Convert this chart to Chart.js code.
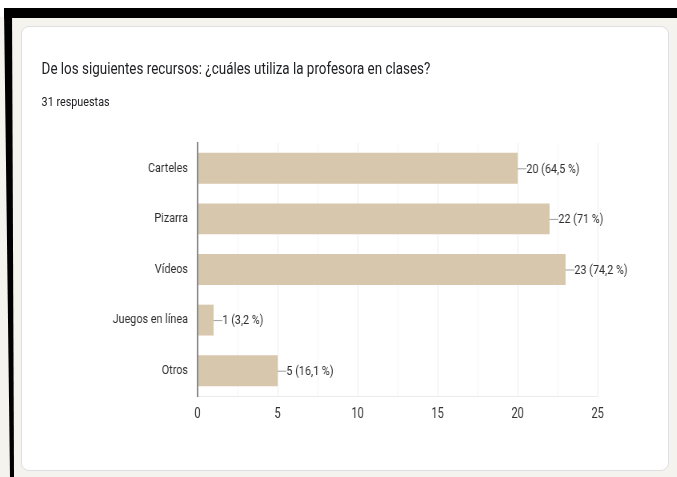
<!DOCTYPE html>
<html>
<head>
  <meta charset="utf-8">
  <title>recursos</title>
  <script src="https://cdn.jsdelivr.net/npm/chart.js@4.4.0/dist/chart.umd.min.js"></script>
</head>
<style>
body{
	margin: 0;
	width: 677px;
	height: 477px;
	overflow: hidden;
	background-color: #ffffff;
	position: relative;
	font-family: Roboto, sans-serif;
}
#page{
	position: absolute;
	left: 0; top: 17px;
	width: 677px; height: 460px;
	background-color: #f4f3ee;
}
#band{
	position: absolute;
	left: 4px; top: 8px;
	width: 673px; height: 10px;
	background-color: #000000;
}
#edge{
	position: absolute;
	left: 0; top: 8px;
	width: 20px; height: 469px;
	background-color: #000000;
	clip-path: polygon(4px 0, 12px 0, 14px 100%, 10px 100%);
}
#card{
	position: absolute;
	left: 21px; top: 26px;
	width: 646px; height: 443px;
	background-color: #ffffff;
	border: 1px solid #dfdfe3;
	border-radius: 8px;
}
/* the screenshot is squeezed sideways, so the text and chart are too */
#squeeze{
	position: absolute;
	left: 0; top: 0;
	width: 846px; height: 477px;
	transform: scaleX(0.8);
	transform-origin: 0 0;
}
#title{
	position: absolute;
	left: 52px; top: 58px;
	font-size: 16.8px;
	line-height: 20px;
	color: #202124;
	white-space: nowrap;
}
#count{
	position: absolute;
	left: 52px; top: 93px;
	font-size: 13.5px;
	line-height: 16px;
	color: #202124;
	white-space: nowrap;
}
#chartBox{
	position: absolute;
	left: 27.5px; top: 130px;
	width: 809px; height: 300px;
}
</style>
<body>
  <div id="page"></div>
  <div id="band"></div>
  <div id="edge"></div>
  <div id="card"></div>
  <div id="squeeze">
	<div id="title">De los siguientes recursos: ¿cuáles utiliza la profesora en clases?</div>
	<div id="count">31 respuestas</div>
	<div id="chartBox"><canvas id="resChart"></canvas></div>
  </div>

<script>
// answers
var categories = ["Carteles", "Pizarra", "Vídeos", "Juegos en línea", "Otros"];
var counts = [20, 22, 23, 1, 5];
var percents = ["64,5", "71", "74,2", "3,2", "16,1"];
var xTicks = [0, 5, 10, 15, 20, 25];

//draws "—20 (64,5 %)" next to every bar
var barLabels = {
  id: "barLabels",
  afterDatasetsDraw: function(chart) {
    var ctx = chart.ctx;
    var meta = chart.getDatasetMeta(0);
    ctx.save();
    ctx.font = "13.5px Roboto";
    ctx.textBaseline = "middle";
    ctx.textAlign = "left";
    for (var i = 0; i < meta.data.length; i++) {
      var bar = meta.data[i];
      ctx.strokeStyle = "#9e9e9e";
      ctx.lineWidth = 1;
      ctx.beginPath();
      ctx.moveTo(bar.x, bar.y + 0.5);
      ctx.lineTo(bar.x + 11, bar.y + 0.5);
      ctx.stroke();
      ctx.fillStyle = "#2e2e2e";
      ctx.fillText(counts[i] + " (" + percents[i] + " %)", bar.x + 11, bar.y + 1);
    }
    ctx.restore();
  }
};

var ctx = document.getElementById("resChart").getContext("2d");
var myBar = new Chart(ctx, {
  type: "bar",
  data: {
    labels: categories,
    datasets: [{
      data: counts,
      backgroundColor: "#d7c7ac",
      borderWidth: 0,
      categoryPercentage: 1,
      barPercentage: 0.61
    }]
  },
  options: {
    indexAxis: "y",
    responsive: true,
    maintainAspectRatio: false,
    animation: false,
    layout: { padding: { top: 13, right: 90, bottom: 0, left: 0 } },
    plugins: { legend: { display: false }, tooltip: { enabled: false } },
    scales: {
      x: {
        min: 0,
        max: 25,
        ticks: {
          stepSize: 2.5,
          padding: 10,
          color: "#333333",
          font: { family: "Roboto", size: 14 },
          callback: function(v) { return xTicks.indexOf(v) >= 0 ? v : ""; }
        },
        grid: {
          drawTicks: false,
          color: function(c) { return xTicks.indexOf(c.tick.value) >= 0 ? "#ebebeb" : "#f4f4f4"; }
        },
        border: { color: "#ebebeb" },
        afterFit: function(s) { s.height = 34; s.paddingLeft = 0; s.paddingRight = 0; }
      },
      y: {
        ticks: {
          padding: 12,
          color: "#2e2e2e",
          font: { family: "Roboto", size: 13.5 }
        },
        grid: { display: false, drawTicks: false },
        border: { color: "#8a8a8a", width: 2, z: 1 },
        afterFit: function(s) { s.width = 219; s.paddingTop = 0; s.paddingBottom = 0; }
      }
    }
  },
  plugins: [barLabels]
});
</script>
</body>
</html>
